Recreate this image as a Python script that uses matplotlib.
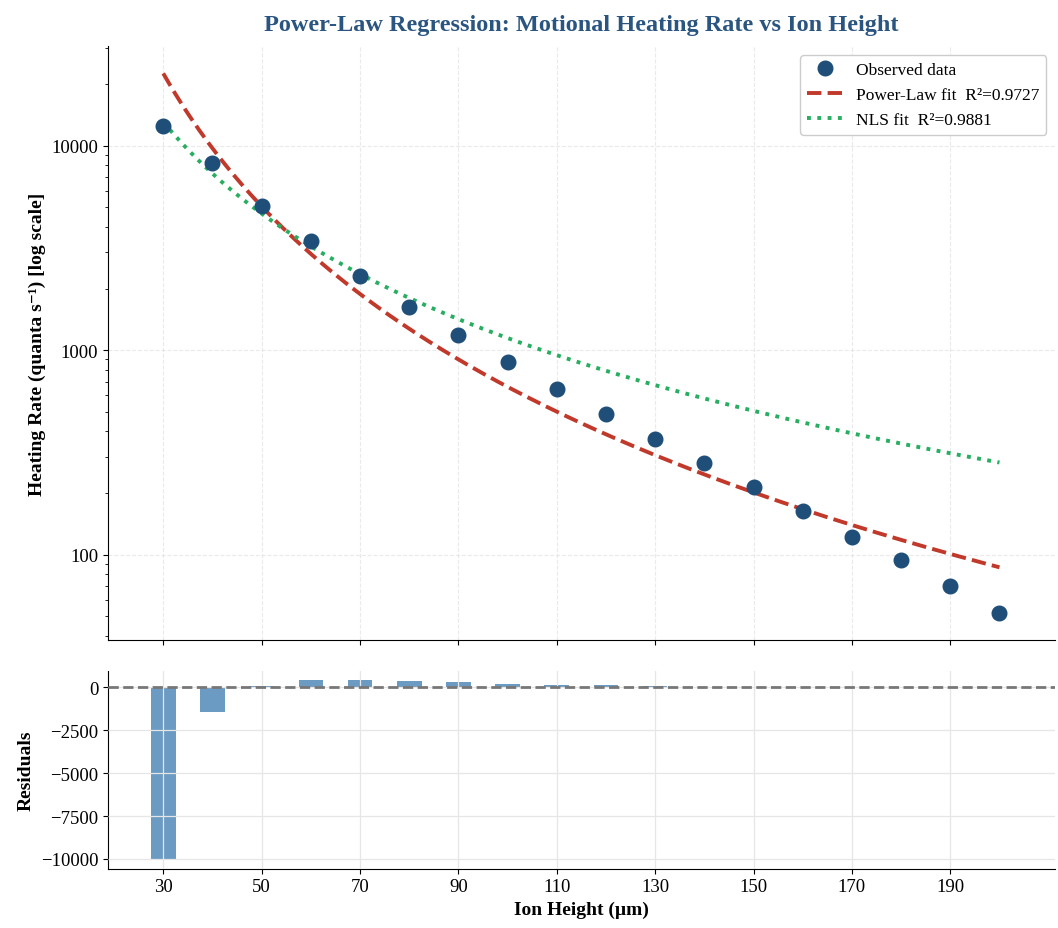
import numpy as np
import matplotlib
matplotlib.use('Agg')
import matplotlib.pyplot as plt
from matplotlib.ticker import FuncFormatter, NullFormatter

# observed heating rates
heights = np.array([30, 40, 50, 60, 70, 80, 90, 100, 110, 120,
                    130, 140, 150, 160, 170, 180, 190, 200], dtype=float)
rates = np.array([12520, 8260, 5090, 3400, 2297, 1622, 1183, 874, 646, 487,
                  368, 281, 215, 164, 122, 93.5, 69.8, 51.5])
xticks = [30, 50, 70, 90, 110, 130, 150, 170, 190]
r2_power = 0.9727
r2_nls = 0.9881

plt.rcParams['font.family'] = ['Liberation Serif', 'DejaVu Serif']

# power law fit in log-log space
b_pl, loga_pl = np.polyfit(np.log(heights), np.log(rates), 1)
a_pl = np.exp(loga_pl)

# nonlinear least squares y = a*x^b in linear space (scan b, best a in closed form)
best = None
for b in np.linspace(-4, -0.5, 3501):
    xb = heights ** b
    a = np.sum(rates * xb) / np.sum(xb * xb)
    sse = np.sum((rates - a * xb) ** 2)
    if best is None or sse < best[0]:
        best = (sse, a, b)
_, a_n, b_n = best

xs = np.linspace(30, 200, 300)
resid = rates - a_pl * heights ** b_pl

fig, (ax, axr) = plt.subplots(2, 1, figsize=(10.58, 9.29), dpi=100, sharex=True,
                              gridspec_kw={'height_ratios': [3, 1], 'hspace': 0.076})
fig.subplots_adjust(left=0.102, right=0.997, top=0.949, bottom=0.064)

ax.plot(heights, rates, 'o', color='#1f4e79', ms=10.5, label='Observed data', zorder=3)
ax.plot(xs, a_pl * xs ** b_pl, '--', color='#c0392b', lw=2.8,
        label=f'Power-Law fit  R²={r2_power:.4f}')
ax.plot(xs, a_n * xs ** b_n, ':', color='#27ae60', lw=2.8,
        label=f'NLS fit  R²={r2_nls:.4f}')
ax.set_yscale('log')
ax.yaxis.set_major_formatter(FuncFormatter(lambda v, p: f'{v:.0f}'))
ax.yaxis.set_minor_formatter(NullFormatter())
ax.set_ylabel('Heating Rate (quanta s⁻¹) [log scale]', fontsize=14, fontweight='bold')
ax.set_title('Power-Law Regression: Motional Heating Rate vs Ion Height',
             fontsize=17.5, fontweight='bold', color='#2a5580', pad=12)
ax.grid(True, ls='--', color='#dddddd', alpha=0.6)
ax.legend(loc='upper right', fontsize=12.5, framealpha=1, edgecolor='#cccccc')
ax.spines['top'].set_visible(False)
ax.spines['right'].set_visible(False)
ax.tick_params(labelsize=13.5)

axr.bar(heights, resid, width=5, color='steelblue', alpha=0.8)
axr.set_axisbelow(False)
axr.grid(True, color='#e6e6e6', lw=0.9)
axr.axhline(0, color='#777777', ls='--', lw=2, zorder=4)
axr.set_ylabel('Residuals', fontsize=14, fontweight='bold')
axr.set_xlabel('Ion Height (µm)', fontsize=14, fontweight='bold')
axr.set_xticks(xticks)
axr.set_yticks([0, -2500, -5000, -7500, -10000])
axr.spines['top'].set_visible(False)
axr.spines['right'].set_visible(False)
axr.tick_params(labelsize=13.5)

fig.savefig('out.png', dpi=100)
